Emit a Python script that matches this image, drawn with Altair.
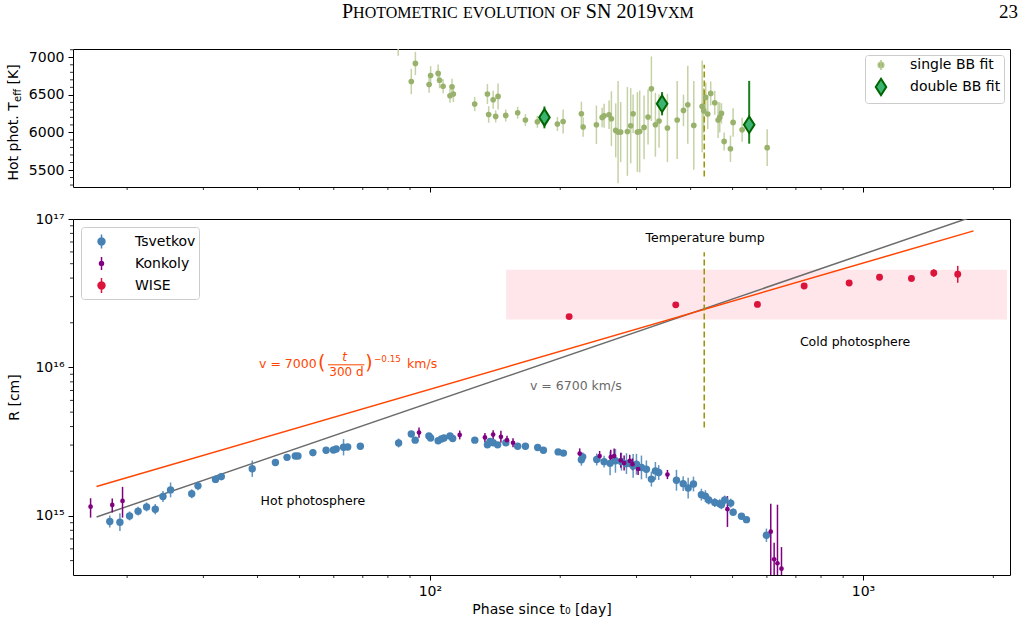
import altair as alt
import pandas as pd

# ---------------- values ----------------
# Tsvetkov radii: phase [d], R [1e15 cm], symmetric error [dex]
tsv_phase = [18.24, 19.25, 20.26, 21.20, 22.18, 23.23, 24.2, 25.2, 28.2, 29.15,
             32.0, 33.0, 38.9, 44.0, 46.8, 48.9, 49.6, 53.7, 57.6, 59.9,
             60.8, 63.2, 64.6, 69.1, 84.7, 90.6, 92.5, 99.5, 100.4, 104.5,
             106.3, 107.8, 111.3, 112.9, 127.0, 135.8, 137.7, 140.0, 143.4, 149.8,
             159.5, 166.2, 177.4, 182.9, 197.8, 203.4, 223.8, 225.4, 242.8, 252.5,
             260.7, 268.2, 276.9, 284.4, 294.7, 299.9, 308.0, 316.2, 324.7, 331.7,
             337.6, 371.0, 384.5, 394.8, 406.1, 423.6, 432.7, 440.4, 454.7, 466.9,
             471.1, 479.5, 495.1, 501.5, 524.2, 538.3, 598.5]
tsv_R15 = [0.918, 0.907, 1.00, 1.077, 1.15, 1.11, 1.353, 1.497, 1.41, 1.594,
           1.762, 1.84, 2.08, 2.29, 2.48, 2.53, 2.53, 2.67, 2.77, 2.78,
           2.82, 2.90, 2.91, 2.95, 3.10, 3.56, 3.24, 3.45, 3.35, 3.21,
           3.30, 3.35, 3.45, 3.32, 3.24, 3.02, 3.17, 3.11, 3.01, 3.11,
           2.95, 2.95, 2.89, 2.77, 2.70, 2.65, 2.39, 2.50, 2.40, 2.32,
           2.26, 2.35, 2.32, 2.25, 2.17, 2.23, 2.12, 2.06, 1.77, 2.01,
           1.96, 1.74, 1.65, 1.54, 1.64, 1.39, 1.36, 1.28, 1.23, 1.21,
           1.19, 1.28, 1.22, 1.06, 0.995, 0.944, 0.741]
tsv_err_dex = [.04, .06, .03, .03, .03, .035, .037, .05, .03, .03,
               .025, .025, .055, .02, .02, .02, .02, .025, .02, .02,
               .02, .055, .02, .02, .03, .02, .02, .02, .02, .02,
               .02, .02, .02, .02, .02, .025, .02, .02, .02, .02,
               .02, .02, .02, .02, .02, .02, .04, .03, .04, .04,
               .08, .08, .06, .07, .08, .07, .08, .06, .05, .06,
               .05, .07, .05, .07, .05, .04, .04, .03, .03, .03,
               .03, .03, .03, .025, .02, .02, .045]

# Konkoly radii: phase [d], R, lower and upper bar ends [1e15 cm]
kon_phase = [16.47, 18.48, 19.52, 94.4, 117.2, 134.0, 140.0, 145.9, 150.7, 155.6,
             221.8, 246.6, 261.6, 266.4, 275.9, 280.9, 289.4, 293.6, 302.6, 353.6,
             486.5, 612.5, 623.6, 634.7, 648.4]
kon_R15 = [1.155, 1.186, 1.262, 3.64, 3.51, 3.38, 3.53, 3.41, 3.24, 3.11,
           2.63, 2.53, 2.49, 2.53, 2.37, 2.27, 2.35, 2.23, 2.07, 1.90,
           1.11, 0.783, 0.510, 0.480, 0.441]
kon_lo15 = [0.974, 1.053, 0.974, 3.36, 3.28, 3.15, 3.29, 3.11, 3.02, 2.90,
            2.43, 2.33, 2.22, 2.25, 2.11, 2.02, 2.14, 2.03, 1.89, 1.77,
            0.843, 0.1, 0.1, 0.1, 0.1]
kon_hi15 = [1.316, 1.308, 1.569, 3.94, 3.76, 3.62, 3.78, 3.74, 3.47, 3.33,
            2.85, 2.74, 2.79, 2.84, 2.66, 2.55, 2.58, 2.44, 2.27, 2.04,
            1.36, 1.21, 0.66, 1.19, 0.617]

# WISE radii: phase [d], R [1e16 cm], error [dex]
wise_phase = [209.7, 369.6, 570.6, 731.5, 929.2, 1092, 1294, 1457, 1655]
wise_R16 = [2.20, 2.64, 2.66, 3.54, 3.71, 4.05, 3.98, 4.33, 4.24]
wise_err_dex = [0.008, 0.008, 0.008, 0.008, 0.008, 0.01, 0.022, 0.025, 0.057]

# Hot photosphere temperature, single blackbody fit
sbb_phase = [84.5, 90.6, 92.6, 99.6, 100.4, 104.5, 105.3, 107.3, 111.3, 112.5,
             113.3, 126.9, 135.8, 136.7, 140.0, 141.9, 143.7, 149.7, 159.5, 166.2,
             177.1, 197.0, 203.1, 223.8, 225.9, 242.4, 249.9, 252.5, 259.3, 262.5,
             268.6, 272.0, 275.8, 285.8, 290.9, 294.6, 301.4, 305.1, 312.3, 319.0,
             324.7, 331.7, 338.2, 353.6, 372.4, 385.1, 394.0, 406.8, 425.3, 428.9,
             433.5, 438.1, 445.1, 454.7, 463.0, 467.0, 471.2, 478.0, 494.3, 501.4,
             526.0, 600.9]
sbb_T = [7180, 6678, 6918, 6638, 6758, 6785, 6694, 6614, 6488, 6608,
         6511, 6378, 6511, 6239, 6435, 6213, 6479, 6226, 6262, 6165,
         6142, 6112, 6146, 6249, 6072, 6102, 6200, 6222, 6235, 6182,
         6027, 6005, 6005, 6013, 6089, 6249, 6005, 6013, 6067, 6205,
         6581, 6102, 6152, 6059, 6165, 6293, 6368, 6093, 6346, 6289,
         6466, 6245, 6519, 6395, 6165, 6200, 6253, 5880, 5783, 6133,
         6036, 5797]
sbb_err = [160, 169, 155, 110, 124, 120, 106, 93, 93, 106,
           106, 95, 133, 110, 120, 80, 173, 80, 80, 80,
           80, 93, 160, 160, 130, 255, 130, 160, 190, 365,
           360, 680, 400, 590, 500, 255, 530, 545, 425, 365,
           430, 425, 355, 455, 520, 210, 520, 590, 610, 300,
           200, 200, 160, 160, 240, 200, 135, 120, 175, 190,
           160, 245]

# double blackbody fit
dbb_phase = [183.9, 343.7, 546.1]
dbb_T = [6200, 6382, 6102]
dbb_lo = [6054, 6227, 5850]
dbb_hi = [6346, 6537, 6686]

# expansion lines (end points) and markers
fit_phase = [17, 1800]
v6700_R = [9.84e14, 1.042e17]
vpow_R = [1.58e15, 8.32e16]
bump_phase = [430]
bump_R = [3.94e15, 5.96e16]
bump_T = [5415, 6900]
cold_phase = [150, 2150]
cold_R = [2.1e16, 4.56e16]

# ticks
x_major = [100, 1000]
x_minor = [20, 30, 40, 50, 60, 70, 80, 90, 200, 300, 400, 500, 600, 700, 800, 900, 2000]
R_major = [1e15, 1e16, 1e17]
R_minor = [5e14, 6e14, 7e14, 8e14, 9e14,
           2e15, 3e15, 4e15, 5e15, 6e15, 7e15, 8e15, 9e15,
           2e16, 3e16, 4e16, 5e16, 6e16, 7e16, 8e16, 9e16]
T_major = [5500, 6000, 6500, 7000]
T_minor = [5300, 5400, 5600, 5700, 5800, 5900, 6100, 6200, 6300, 6400,
           6600, 6700, 6800, 6900, 7100]

# annotations (data coordinates)
ann_text = ["Temperature bump", "Cold photosphere", "Hot photosphere"]
ann_phase = [432, 959, 53.7]
ann_R = [7.46e16, 1.475e16, 1.26e15]
v6700_label = ["v = 6700 km/s"]
v6700_label_pos = [170.3, 7.45e15]
formula_text = ["v = 7000", "(", "300 d", ")", "\u22120.15", "km/s"]
formula_phase = [47.0, 56.3, 64.2, 72.3, 79.8, 96.0]
formula_R = [1.059e16, 1.065e16, 9.3e15, 1.065e16, 1.132e16, 1.059e16]
formula_size = [12.5, 19, 12, 19, 8.8, 12.5]
formula_t = ["t", 63.6, 1.175e16]
formula_bar_phase = [58.2, 70.6]
formula_bar_R = [1.042e16]

FITS = ["single BB fit", "double BB fit"]
SOURCES = ["Tsvetkov", "Konkoly", "WISE"]

# ---------------- styling ----------------
FONT = "DejaVu Sans"
SERIF = "Liberation Serif"
W, H_TOP, H_BOT = 937, 138, 356
BLUE, PURPLE, RED = "#4682b4", "#800080", "#dc143c"
ORANGE, GREY, OLIVE = "#ff4500", "#6b6b6b", "#9a9400"

xs = alt.Scale(type="log", domain=[15.0, 2185.0], nice=False)
ys_T = alt.Scale(domain=[5274, 7110], nice=False, zero=False)
ys_R = alt.Scale(type="log", domain=[4.0e14, 1.0e17], nice=False)

ax = dict(domain=False, grid=False, tickColor="black", tickWidth=1, tickSize=5,
          labelColor="black", labelFont=FONT, labelFontSize=14, labelPadding=4,
          titleFont=FONT, titleFontSize=14, titleFontWeight="normal", titleColor="black")

x_axis_top = alt.Axis(values=x_major, labels=False, title=None, **ax)
x_axis_bot = alt.Axis(values=x_major, labelExpr="datum.value < 500 ? '10\u00b2' : '10\u00b3'",
                      title="Phase since t\u2080 [day]", titlePadding=4, labelFlush=False, **ax)
y_axis_top = alt.Axis(values=T_major, format="d", title=None, minExtent=46, maxExtent=46, **ax)
y_axis_bot = alt.Axis(values=R_major,
                      labelExpr="datum.value < 5e15 ? '10\u00b9\u2075' : (datum.value < 5e16 ? '10\u00b9\u2076' : '10\u00b9\u2077')",
                      title="R [cm]", titlePadding=6, minExtent=46, maxExtent=46, **ax)


def xt(field):
    return alt.X(f"{field}:Q", scale=xs, axis=x_axis_top)


def xb(field):
    return alt.X(f"{field}:Q", scale=xs, axis=x_axis_bot)


def yT(field):
    return alt.Y(f"{field}:Q", scale=ys_T, axis=y_axis_top)


def yR(field):
    return alt.Y(f"{field}:Q", scale=ys_R, axis=y_axis_bot)


TOP_SHAPE = ("datum.value === 'double BB fit' ? 'M0,-0.786L0.5,0L0,0.786L-0.5,0Z' : "
             "'M0,-0.48L0,0.48M0.27,0A0.27,0.27,0,1,1,-0.27,0A0.27,0.27,0,1,1,0.27,0Z'")
legend_top = alt.Legend(
    title=None, orient="top-right", offset=6, padding=3, strokeColor="#cccccc",
    fillColor="white", cornerRadius=3, labelFont=FONT, labelFontSize=14, labelColor="black",
    symbolSize=441, rowPadding=0, labelOffset=22, symbolOffset=6, symbolOpacity=1,
    symbolType={"expr": TOP_SHAPE},
    symbolFillColor={"expr": "datum.value === 'double BB fit' ? '#3cb371' : '#98b16b'"},
    symbolStrokeColor={"expr": "datum.value === 'double BB fit' ? '#006400' : '#b3c68c'"},
    symbolStrokeWidth={"expr": "datum.value === 'double BB fit' ? 2 : 1.5"},
)

BOT_SHAPE = ("datum.value === 'Tsvetkov' ? "
             "'M0,-0.667L0,0.667M0.33,0A0.33,0.33,0,1,1,-0.33,0A0.33,0.33,0,1,1,0.33,0Z' : "
             "(datum.value === 'Konkoly' ? "
             "'M0,-0.62L0,0.62M0.19,0A0.19,0.19,0,1,1,-0.19,0A0.19,0.19,0,1,1,0.19,0Z' : "
             "'M0,-0.714L0,0.714M0.33,0A0.33,0.33,0,1,1,-0.33,0A0.33,0.33,0,1,1,0.33,0Z')")
BOT_COL = (f"datum.value === 'Tsvetkov' ? '{BLUE}' : "
           f"(datum.value === 'Konkoly' ? '{PURPLE}' : '{RED}')")
legend_bot = alt.Legend(
    title=None, orient="top-left", offset=8, padding=3, strokeColor="#cccccc",
    fillColor="white", cornerRadius=3, labelFont=FONT, labelFontSize=14, labelColor="black",
    symbolSize=441, rowPadding=0, labelOffset=22, symbolOffset=6, symbolOpacity=1,
    symbolType={"expr": BOT_SHAPE},
    symbolFillColor={"expr": BOT_COL},
    symbolStrokeColor={"expr": BOT_COL},
    symbolStrokeWidth=1.5,
)
fit_color = alt.Scale(domain=FITS, range=["#98b16b", "#3cb371"])
src_color = alt.Scale(domain=SOURCES, range=[BLUE, PURPLE, RED])

# ---------------- data frames ----------------
df_sbb = pd.DataFrame({"phase": sbb_phase, "T": sbb_T, "fit": FITS[0]})
df_sbb["lo"] = df_sbb["T"] - pd.Series(sbb_err)
df_sbb["hi"] = df_sbb["T"] + pd.Series(sbb_err)
df_dbb = pd.DataFrame({"phase": dbb_phase, "T": dbb_T, "lo": dbb_lo, "hi": dbb_hi, "fit": FITS[1]})

df_tsv = pd.DataFrame({"phase": tsv_phase, "R": [v * 1e15 for v in tsv_R15],
                       "e": tsv_err_dex, "source": "Tsvetkov"})
df_tsv["lo"] = df_tsv["R"] / 10 ** df_tsv["e"]
df_tsv["hi"] = df_tsv["R"] * 10 ** df_tsv["e"]
df_kon = pd.DataFrame({"phase": kon_phase, "R": [v * 1e15 for v in kon_R15],
                       "lo": [v * 1e15 for v in kon_lo15], "hi": [v * 1e15 for v in kon_hi15],
                       "source": "Konkoly"})
df_wise = pd.DataFrame({"phase": wise_phase, "R": [v * 1e16 for v in wise_R16],
                        "e": wise_err_dex, "source": "WISE"})
df_wise["lo"] = df_wise["R"] / 10 ** df_wise["e"]
df_wise["hi"] = df_wise["R"] * 10 ** df_wise["e"]

df_lines = pd.DataFrame({"phase": fit_phase, "grey": v6700_R, "orange": vpow_R})
df_bump_R = pd.DataFrame({"phase": bump_phase, "lo": [bump_R[0]], "hi": [bump_R[1]]})
df_bump_T = pd.DataFrame({"phase": bump_phase, "lo": [bump_T[0]], "hi": [bump_T[1]]})
df_cold = pd.DataFrame({"x1": [cold_phase[0]], "x2": [cold_phase[1]],
                        "y1": [cold_R[0]], "y2": [cold_R[1]]})

# ---------------- top panel ----------------
minor_x_top = alt.Chart(pd.DataFrame({"v": x_minor})).mark_rule(color="black", strokeWidth=0.8).encode(
    x=xt("v"), y=alt.value(H_TOP), y2=alt.value(H_TOP + 3))
minor_y_top = alt.Chart(pd.DataFrame({"v": T_minor})).mark_rule(color="black", strokeWidth=0.8).encode(
    y=yT("v"), x=alt.value(0), x2=alt.value(-3))
err_sbb = alt.Chart(df_sbb).mark_rule(color="#c4d2a5", strokeWidth=1.5, clip=True).encode(
    x=xt("phase"), y=yT("lo"), y2="hi:Q")
err_dbb = alt.Chart(df_dbb).mark_rule(color="#1c7f1c", strokeWidth=2, clip=True).encode(
    x=xt("phase"), y=yT("lo"), y2="hi:Q")
bump_top = alt.Chart(df_bump_T).mark_rule(color=OLIVE, strokeWidth=1.5, strokeDash=[6, 3]).encode(
    x=xt("phase"), y=yT("lo"), y2="hi:Q")
pts_sbb = alt.Chart(df_sbb).mark_point(filled=True, size=32, opacity=1, clip=True).encode(
    x=xt("phase"), y=yT("T"),
    color=alt.Color("fit:N", scale=fit_color, legend=legend_top))
pts_dbb = alt.Chart(df_dbb).mark_point(filled=True, size=272, opacity=1, clip=True,
                                       shape="M0,-1L0.64,0L0,1L-0.64,0Z",
                                       stroke="#006400", strokeWidth=2).encode(
    x=xt("phase"), y=yT("T"),
    color=alt.Color("fit:N", scale=fit_color, legend=legend_top))

# page header (small caps approximated with two sizes)
TIMES = {'P': .556, 'H': .722, 'O': .722, 'T': .611, 'M': .889, 'E': .611, 'R': .667,
         'I': .333, 'C': .667, 'V': .722, 'L': .611, 'U': .722, 'N': .722, 'F': .556,
         'S': .556, 'X': .722, ' ': .25, '2': .5, '0': .5, '1': .5, '9': .5}
header_pieces = [("P", 20), ("HOTOMETRIC", 16), (" ", 20), ("EVOLUTION", 16),
                 (" ", 20), ("OF", 16), (" ", 20), ("SN 2019", 20), ("VXM", 16)]
header_layers = []
cursor = 269.0
for txt, fs in header_pieces:
    if txt.strip():
        header_layers.append(
            alt.Chart(pd.DataFrame({"t": [txt]})).mark_text(
                font=SERIF, fontSize=fs, align="left", baseline="alphabetic", color="black").encode(
                x=alt.value(cursor), y=alt.value(-31), text="t:N"))
    cursor += sum(TIMES[c] for c in txt) * fs
header_layers.append(
    alt.Chart(pd.DataFrame({"t": ["23"]})).mark_text(
        font=SERIF, fontSize=19, align="right", baseline="alphabetic", color="black").encode(
        x=alt.value(945), y=alt.value(-31), text="t:N"))

# y title with subscript
ytitle = []
for txt, fs, dx, ybot in [("Hot phot. T", 14, 0, 131.5), ("eff", 10, 4, 53.0),
                          ("[K]", 14, 0, 35.5)]:
    ytitle.append(alt.Chart(pd.DataFrame({"t": [txt]})).mark_text(
        font=FONT, fontSize=fs, angle=270, align="left", baseline="middle", color="black").encode(
        x=alt.value(-59 + dx), y=alt.value(ybot), text="t:N"))

top = alt.layer(minor_x_top, minor_y_top, err_sbb, err_dbb, bump_top, pts_sbb, pts_dbb,
                *header_layers, *ytitle).properties(width=W, height=H_TOP)

# ---------------- bottom panel ----------------
minor_x_bot = alt.Chart(pd.DataFrame({"v": x_minor})).mark_rule(color="black", strokeWidth=0.8).encode(
    x=xb("v"), y=alt.value(H_BOT), y2=alt.value(H_BOT + 3))
minor_y_bot = alt.Chart(pd.DataFrame({"v": R_minor})).mark_rule(color="black", strokeWidth=0.8).encode(
    y=yR("v"), x=alt.value(0), x2=alt.value(-3))
band = alt.Chart(df_cold).mark_rect(color="#ffe6ea", clip=True).encode(
    x=xb("x1"), x2="x2:Q", y=yR("y1"), y2="y2:Q")
line_grey = alt.Chart(df_lines).mark_line(color=GREY, strokeWidth=1.5, clip=True).encode(
    x=xb("phase"), y=yR("grey"))
line_orange = alt.Chart(df_lines).mark_line(color=ORANGE, strokeWidth=1.5, clip=True).encode(
    x=xb("phase"), y=yR("orange"))
bump_bot = alt.Chart(df_bump_R).mark_rule(color=OLIVE, strokeWidth=1.5, strokeDash=[6, 3]).encode(
    x=xb("phase"), y=yR("lo"), y2="hi:Q")
err_tsv = alt.Chart(df_tsv).mark_rule(color=BLUE, strokeWidth=1.5, opacity=0.85, clip=True).encode(
    x=xb("phase"), y=yR("lo"), y2="hi:Q")
err_kon = alt.Chart(df_kon).mark_rule(color=PURPLE, strokeWidth=1.5, clip=True).encode(
    x=xb("phase"), y=yR("lo"), y2="hi:Q")
err_wise = alt.Chart(df_wise).mark_rule(color=RED, strokeWidth=1.5, clip=True).encode(
    x=xb("phase"), y=yR("lo"), y2="hi:Q")
pts_tsv = alt.Chart(df_tsv).mark_point(filled=True, size=55, opacity=1, clip=True).encode(
    x=xb("phase"), y=yR("R"),
    color=alt.Color("source:N", scale=src_color, legend=legend_bot))
pts_kon = alt.Chart(df_kon).mark_point(filled=True, size=22, opacity=1, clip=True).encode(
    x=xb("phase"), y=yR("R"),
    color=alt.Color("source:N", scale=src_color, legend=legend_bot))
pts_wise = alt.Chart(df_wise).mark_point(filled=True, size=48, opacity=1, clip=True).encode(
    x=xb("phase"), y=yR("R"),
    color=alt.Color("source:N", scale=src_color, legend=legend_bot))

ann = alt.Chart(pd.DataFrame({"t": ann_text, "phase": ann_phase, "R": ann_R})).mark_text(
    font=FONT, fontSize=12.5, color="black", align="center", baseline="middle").encode(
    x=xb("phase"), y=yR("R"), text="t:N")
ann_v = alt.Chart(pd.DataFrame({"t": v6700_label, "phase": [v6700_label_pos[0]],
                                "R": [v6700_label_pos[1]]})).mark_text(
    font=FONT, fontSize=12.5, color="#696969", align="left", baseline="middle").encode(
    x=xb("phase"), y=yR("R"), text="t:N")
formula = alt.Chart(pd.DataFrame({"t": formula_text, "phase": formula_phase, "R": formula_R,
                                  "fs": formula_size})).mark_text(
    font=FONT, color=ORANGE, align="center", baseline="middle").encode(
    x=xb("phase"), y=yR("R"), text="t:N", size=alt.Size("fs:Q", scale=None))
formula_tt = alt.Chart(pd.DataFrame({"t": [formula_t[0]], "phase": [formula_t[1]],
                                     "R": [formula_t[2]]})).mark_text(
    font=FONT, fontSize=12, fontStyle="italic", color=ORANGE, align="center", baseline="middle").encode(
    x=xb("phase"), y=yR("R"), text="t:N")
formula_bar = alt.Chart(pd.DataFrame({"x1": [formula_bar_phase[0]], "x2": [formula_bar_phase[1]],
                                      "R": formula_bar_R})).mark_rule(color=ORANGE, strokeWidth=1).encode(
    x=xb("x1"), x2="x2:Q", y=yR("R"))

bottom = alt.layer(minor_x_bot, minor_y_bot, band, line_grey, line_orange, bump_bot,
                   err_tsv, err_kon, err_wise, pts_tsv, pts_kon, pts_wise,
                   ann, ann_v, formula, formula_tt, formula_bar).properties(width=W, height=H_BOT)

chart = alt.vconcat(top, bottom, spacing=18).resolve_scale(
    color="independent"
).resolve_legend(color="independent").properties(
    padding={"left": 6, "top": 1, "right": 0, "bottom": 0},
    background="white",
).configure_view(stroke="black", strokeWidth=1)

chart.save("out.html", embed_options={"renderer": "svg", "actions": False})
